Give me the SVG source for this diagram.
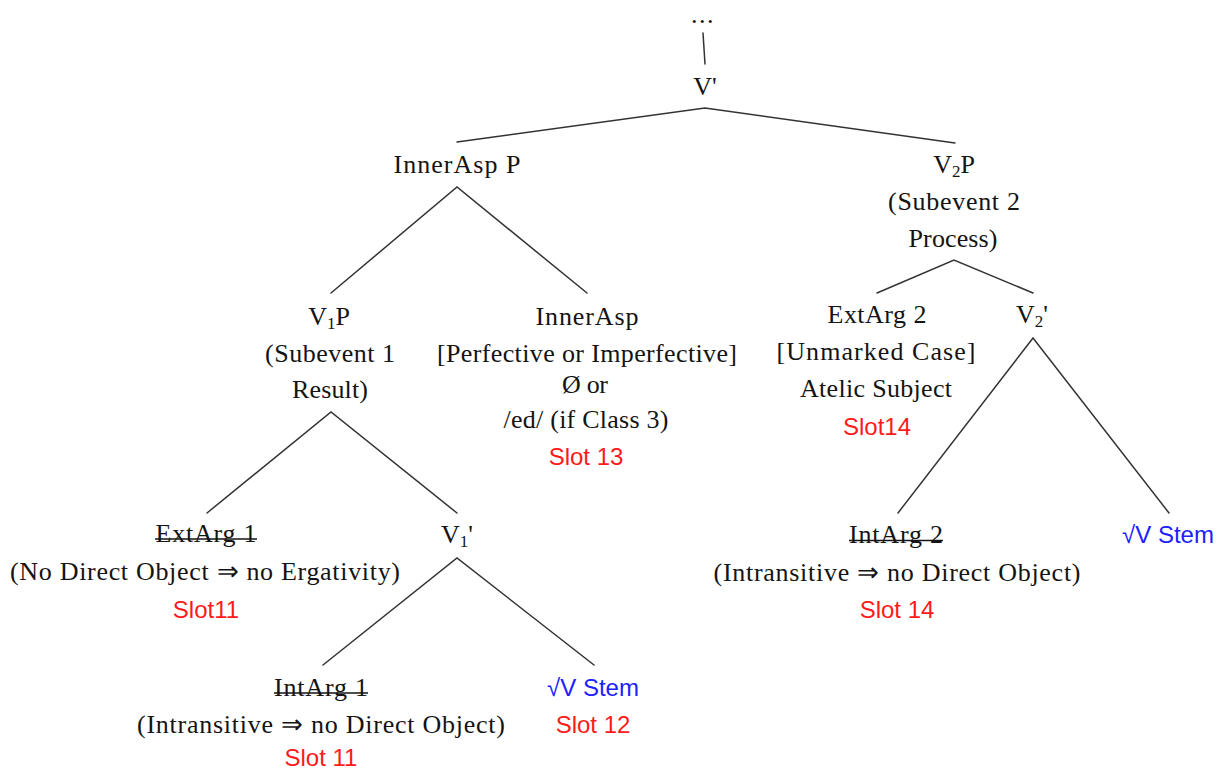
<svg xmlns="http://www.w3.org/2000/svg" width="1224" height="771" viewBox="0 0 1224 771">
  <style>
    .t { font-family: "Liberation Serif", "Times New Roman", serif; font-size: 26px; fill: #141414; text-anchor: middle; }
    .sub { font-size: 17px; }
    .slot { font-family: "Liberation Sans", Arial, sans-serif; font-size: 24px; fill: #ff1a1a; text-anchor: middle; }
    .stem { font-family: "Liberation Sans", Arial, sans-serif; font-size: 24px; fill: #2020ff; text-anchor: middle; }
    .edge { stroke: #333333; stroke-width: 1.5; fill: none; stroke-linecap: round; }
    .strike { stroke: #141414; stroke-width: 1.4; }
  </style>
  <rect width="1224" height="771" fill="#ffffff"/>

  <!-- tree branches -->
  <g id="connectors">
    <line class="edge" x1="703" y1="33" x2="705" y2="64"/>
    <polyline class="edge" points="457,142 705,108 955,143"/>
    <polyline class="edge" points="331,293 457,187 587,293"/>
    <polyline class="edge" points="877,293 954,260 1033,293"/>
    <polyline class="edge" points="207,513 331,412 457,513"/>
    <polyline class="edge" points="898,513 1033,338 1169,513"/>
    <polyline class="edge" points="323,665 457,558 594,665"/>
  </g>

  <g id="top">
    <text class="t" x="703" y="23" font-size="20" letter-spacing="1.5">...</text>
  </g>

  <g id="v-bar">
    <text class="t" x="705" y="95">V'</text>
  </g>

  <g id="innerasp-p">
    <text class="t" x="457" y="173" textLength="127" lengthAdjust="spacing">InnerAsp P</text>
  </g>

  <g id="v2p">
    <text class="t" x="954" y="173">V<tspan class="sub" dy="4">2</tspan><tspan dy="-4">P</tspan></text>
    <text class="t" x="954" y="210" textLength="132" lengthAdjust="spacing">(Subevent 2</text>
    <text class="t" x="953" y="247" textLength="89" lengthAdjust="spacing">Process)</text>
  </g>

  <g id="v1p">
    <text class="t" x="329" y="325">V<tspan class="sub" dy="4">1</tspan><tspan dy="-4">P</tspan></text>
    <text class="t" x="330" y="362" textLength="130" lengthAdjust="spacing">(Subevent 1</text>
    <text class="t" x="330" y="398" textLength="76" lengthAdjust="spacing">Result)</text>
  </g>

  <g id="innerasp">
    <text class="t" x="587" y="325" textLength="103" lengthAdjust="spacing">InnerAsp</text>
    <text class="t" x="587" y="362" textLength="300" lengthAdjust="spacing">[Perfective or Imperfective]</text>
    <text class="t" x="585" y="393" textLength="46" lengthAdjust="spacing">Ø or</text>
    <text class="t" x="586" y="428" textLength="165" lengthAdjust="spacing">/ed/ (if Class 3)</text>
    <text class="slot" x="586" y="465">Slot 13</text>
  </g>

  <g id="extarg-2">
    <text class="t" x="877" y="323" textLength="99" lengthAdjust="spacing">ExtArg 2</text>
    <text class="t" x="876" y="360" textLength="199" lengthAdjust="spacing">[Unmarked Case]</text>
    <text class="t" x="876" y="397" textLength="152" lengthAdjust="spacing">Atelic Subject</text>
    <text class="slot" x="877" y="435">Slot14</text>
  </g>

  <g id="v2-bar">
    <text class="t" x="1032" y="323">V<tspan class="sub" dy="4">2</tspan><tspan dy="-4">'</tspan></text>
  </g>

  <g id="extarg-1">
    <text class="t" x="206" y="542" textLength="101" lengthAdjust="spacing">ExtArg 1</text>
    <line class="strike" x1="155" y1="539" x2="257" y2="539"/>
    <text class="t" x="205" y="580" textLength="390" lengthAdjust="spacing">(No Direct Object ⇒ no Ergativity)</text>
    <text class="slot" x="206" y="618">Slot11</text>
  </g>

  <g id="v1-bar">
    <text class="t" x="457" y="543">V<tspan class="sub" dy="4">1</tspan><tspan dy="-4">'</tspan></text>
  </g>

  <g id="intarg-2">
    <text class="t" x="896" y="543" textLength="94" lengthAdjust="spacing">IntArg 2</text>
    <line class="strike" x1="849" y1="540.5" x2="943" y2="540.5"/>
    <text class="t" x="897" y="581" textLength="367" lengthAdjust="spacing">(Intransitive ⇒  no Direct Object)</text>
    <text class="slot" x="897" y="618">Slot 14</text>
  </g>

  <g id="stem-2">
    <text class="stem" x="1168" y="543">√V Stem</text>
  </g>

  <g id="intarg-1">
    <text class="t" x="321" y="696" textLength="94" lengthAdjust="spacing">IntArg 1</text>
    <line class="strike" x1="274" y1="693" x2="368" y2="693"/>
    <text class="t" x="321" y="733" textLength="368" lengthAdjust="spacing">(Intransitive ⇒  no Direct Object)</text>
    <text class="slot" x="321" y="766">Slot 11</text>
  </g>

  <g id="stem-1">
    <text class="stem" x="593" y="696">√V Stem</text>
    <text class="slot" x="593" y="733">Slot 12</text>
  </g>
</svg>
